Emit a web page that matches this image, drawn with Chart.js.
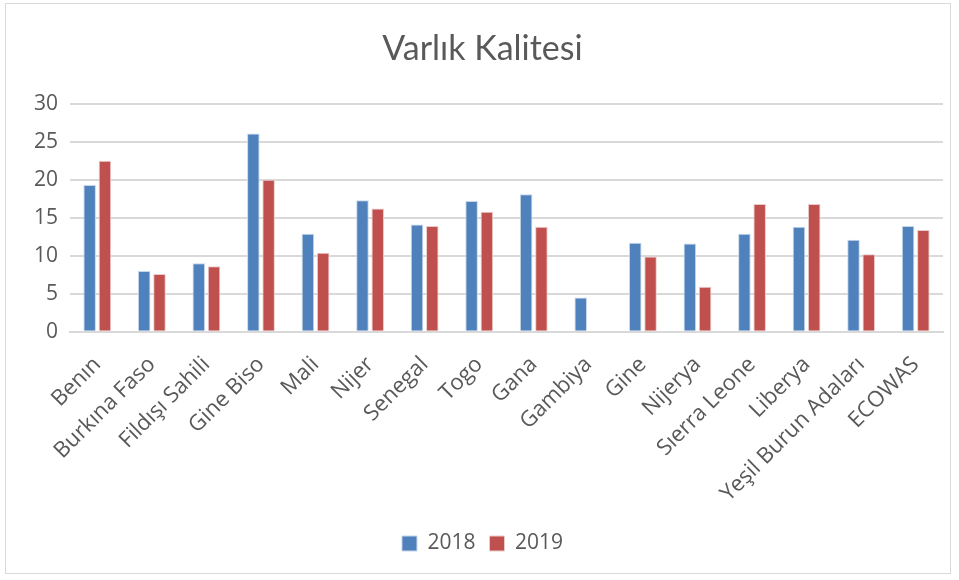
<!DOCTYPE html>
<html>
<head>
<meta charset="utf-8">
<script src="https://cdn.jsdelivr.net/npm/chart.js@4"></script>
<style>
  html, body { margin: 0; padding: 0; background: #fff; }
  #frame {
    position: absolute; left: 5px; top: 3px; width: 946px; height: 571px;
    border: 1px solid #d9d9d9; box-sizing: border-box;
  }
  #chart { position: absolute; left: 0; top: 0; }
</style>
</head>
<body>
<div id="frame"></div>
<canvas id="chart" width="959" height="580"></canvas>
<script>
// categories and values
const countries = [`Benın`, `Burkına Faso`, `Fildışı Sahili`, `Gine Biso`, `Mali`, `Nijer`, `Senegal`, `Togo`,
    `Gana`, `Gambiya`, `Gine`, `Nijerya`, `Sıerra Leone`, `Liberya`, `Yeşil Burun Adaları`, `ECOWAS`];
const values2018 = [19.3, 8.0, 9.0, 26.1, 12.9, 17.3, 14.1, 17.2, 18.1, 4.5, 11.7, 11.6, 12.9, 13.8, 12.1, 13.9];
const values2019 = [22.5, 7.6, 8.6, 20.0, 10.4, 16.2, 13.9, 15.8, 13.8, null, 9.9, 5.9, 16.8, 16.8, 10.2, 13.4];
const yTicks = [0, 5, 10, 15, 20, 25, 30];

const textFont = `"Open Sans", sans-serif`;
const titleFont = `Lato, "Open Sans", sans-serif`;

const context2d = document.getElementById(`chart`).getContext(`2d`);
new Chart(context2d, {
    type: `bar`,
    data: {
        labels: countries,
        datasets: [
            {
                label: `2018`,
                data: values2018,
                backgroundColor: `#4f81bd`,
                borderColor: `#c5d5ea`,
                borderWidth: 1,
                categoryPercentage: 0.56,
                barPercentage: 0.82
            },
            {
                label: `2019`,
                data: values2019,
                backgroundColor: `#c0504d`,
                borderColor: `#eacaca`,
                borderWidth: 1,
                categoryPercentage: 0.56,
                barPercentage: 0.82
            }
        ]
    },
    options: {
        responsive: false,
        animation: false,
        layout: {
            padding: { left: 22, right: 16, top: 10, bottom: 16 }
        },
        plugins: {
            title: {
                display: true,
                text: `Varlık Kalitesi`,
                color: `#595959`,
                font: { family: titleFont, size: 34, weight: `normal` },
                padding: { top: 19, bottom: 34 }
            },
            legend: {
                position: `bottom`,
                labels: {
                    color: `#595959`,
                    font: { family: textFont, size: 21 },
                    boxWidth: 15,
                    boxHeight: 15,
                    padding: 14
                }
            },
            tooltip: { enabled: false }
        },
        scales: {
            x: {
                grid: { display: false },
                border: { color: `#d9d9d9`, width: 2 },
                ticks: {
                    color: `#595959`,
                    font: { family: textFont, size: 22 },
                    minRotation: 45,
                    maxRotation: 45,
                    autoSkip: false,
                    padding: 12
                }
            },
            y: {
                min: 0,
                max: 30,
                afterBuildTicks: axis => { axis.ticks = yTicks.map(v => ({ value: v })); },
                grid: { color: `#d9d9d9`, lineWidth: 2, drawTicks: false },
                border: { display: false },
                ticks: {
                    color: `#595959`,
                    font: { family: textFont, size: 21 },
                    padding: 12
                }
            }
        }
    }
});
</script>
</body>
</html>
